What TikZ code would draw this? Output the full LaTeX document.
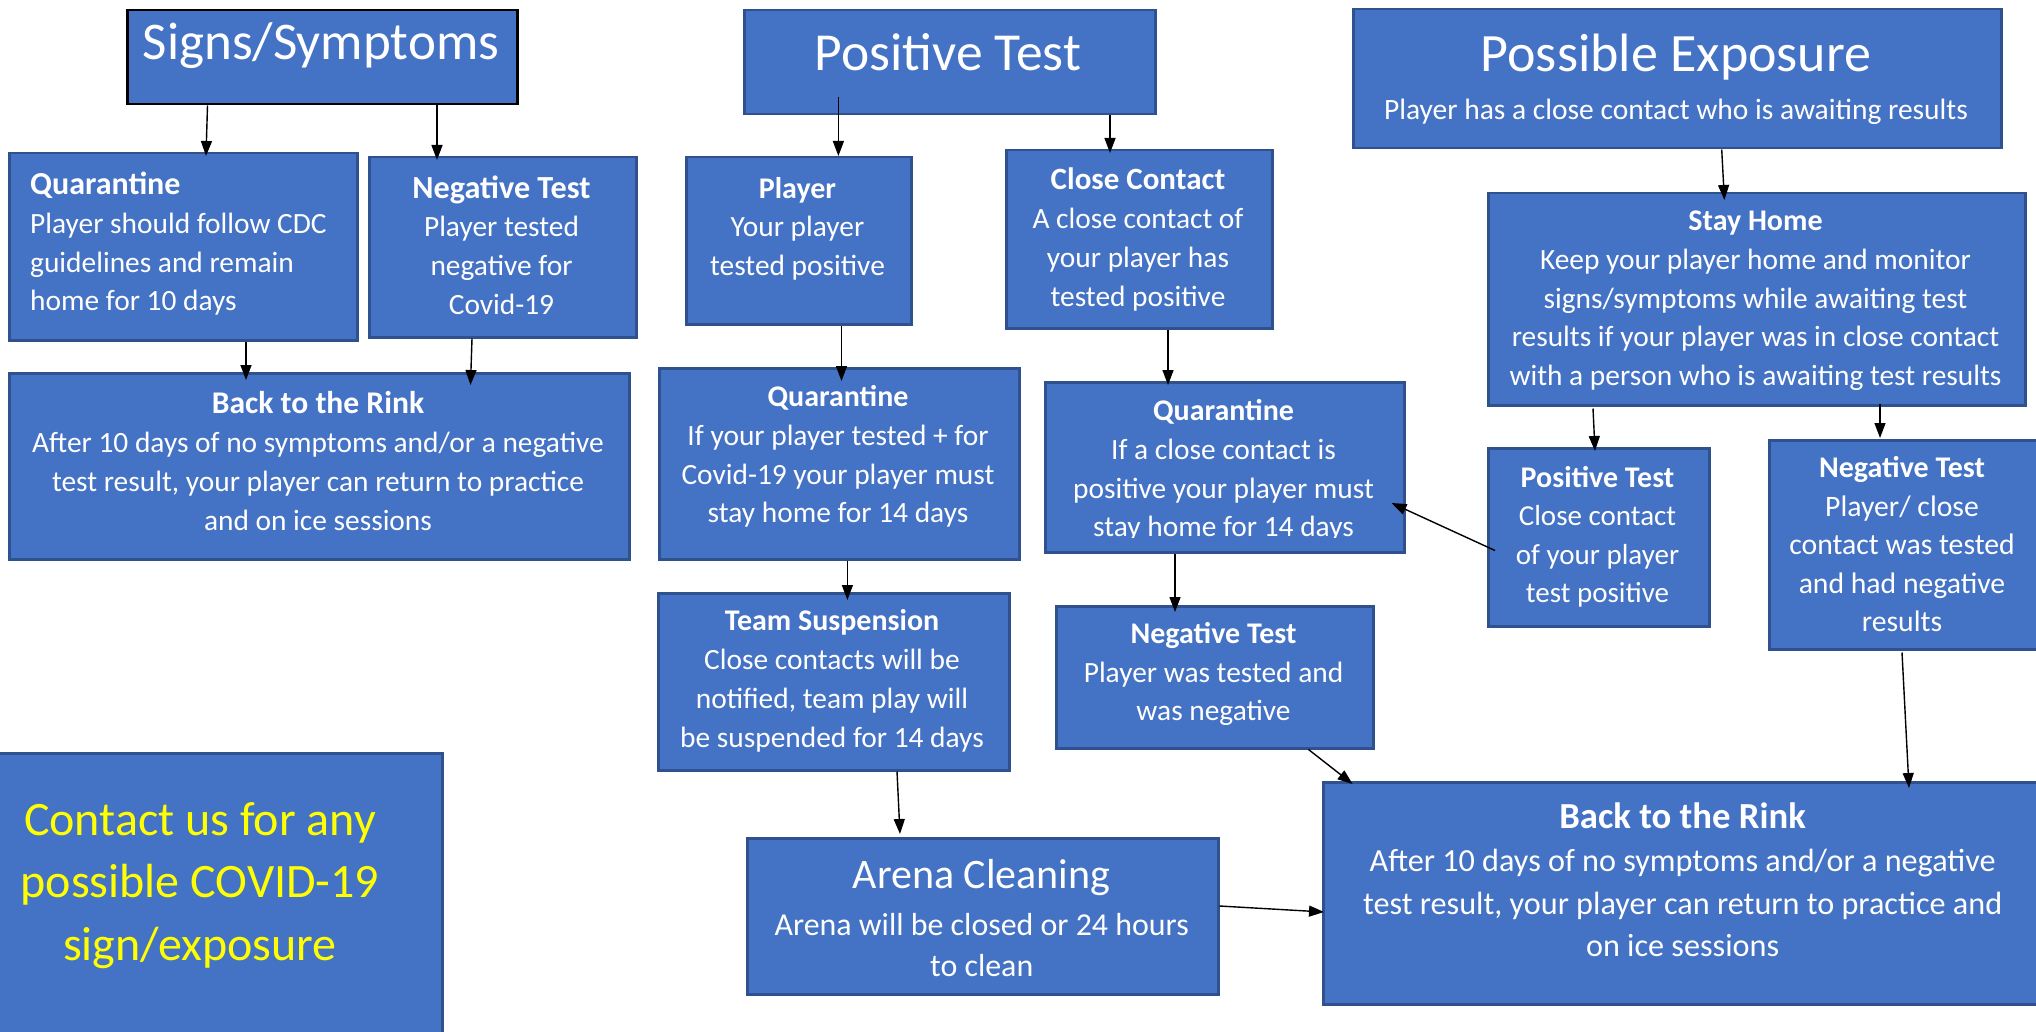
\documentclass[tikz,border=0pt]{standalone}
\usepackage{fontspec}
\setmainfont{Carlito}
\usetikzlibrary{arrows.meta,calc}
\definecolor{boxblue}{HTML}{4472C4}
\definecolor{boxedge}{HTML}{2F528F}
\definecolor{ctyellow}{HTML}{FFFF00}
\newcommand\topstrut{\rule{0pt}{30pt}}
\newcommand\boxtitle[2][30]{{\fontsize{#1}{38}\selectfont\bfseries #2}}
\tikzset{
  box/.style={draw=boxedge, fill=boxblue, line width=2.5pt, inner sep=0pt, anchor=north west},
  txt/.style={text=white, inner sep=0pt, align=center, anchor=base},
  mtxt/.style={text=white, inner sep=0pt, align=center, anchor=north, yshift=30pt},
  body/.style={font=\fontsize{29.4}{38.7}\selectfont},
  arr/.style={-{Triangle[length=15pt,width=11pt]}, line width=1.4pt, draw=black},
}
\begin{document}
\begin{tikzpicture}[x=1pt,y=-1pt]
\useasboundingbox (0,0) rectangle (2036,1032);
\clip (0,0) rectangle (2036,1032);
\fill[white] (0,0) rectangle (2036,1032);

% boxes
\node[box, draw=black, minimum width=390pt, minimum height=94pt] (sig) at (126,9) {};
\node[box, minimum width=348pt, minimum height=187pt] (qL) at (8,152) {};
\node[box, minimum width=267pt, minimum height=180pt] (ntL) at (368,156) {};
\node[box, minimum width=620pt, minimum height=186pt] (bkL) at (8,372) {};
\node[box, minimum width=411pt, minimum height=104pt] (pt) at (743,9) {};
\node[box, minimum width=225pt, minimum height=167pt] (pl) at (685,156) {};
\node[box, minimum width=266pt, minimum height=178pt] (cc) at (1005,149) {};
\node[box, minimum width=360pt, minimum height=191pt] (qM) at (658,367) {};
\node[box, minimum width=359pt, minimum height=170pt] (qR) at (1044,381) {};
\node[box, minimum width=351pt, minimum height=177pt] (ts) at (657,592) {};
\node[box, minimum width=317pt, minimum height=142pt] (ntM) at (1055,605) {};
\node[box, minimum width=471pt, minimum height=156pt] (ac) at (746,837) {};
\node[box, minimum width=451pt, minimum height=300pt] (ct) at (-10,752) {};
\node[box, minimum width=648pt, minimum height=139pt] (pe) at (1352,8) {};
\node[box, minimum width=537pt, minimum height=212pt] (sh) at (1487,192) {};
\node[box, minimum width=221pt, minimum height=178pt] (ptR) at (1487,447) {};
\node[box, minimum width=280pt, minimum height=209pt] (ntR) at (1768,439) {};
\node[box, minimum width=725pt, minimum height=222pt] (bkR) at (1322,781) {};

% texts (mtxt: placed at the first line's baseline)
\node[txt, font=\fontsize{53}{62}\selectfont] (sigt) at (321,60) {Signs/Symptoms};
\node[mtxt, body, anchor=north west, align=left] (qLt) at (30,194.5)
  {\topstrut\boxtitle[32]{Quarantine}\\Player should follow CDC\\guidelines and remain\\home for 10 days};
\node[mtxt, body] (ntLt) at (501.5,198)
  {\topstrut\boxtitle[32.2]{Negative Test}\\Player tested\\negative for\\Covid-19};
\node[mtxt, body] (bkLt) at (318,413.7)
  {\topstrut\boxtitle[31.6]{Back to the Rink}\\After 10 days of no symptoms and/or a negative\\test result, your player can return to practice\\and on ice sessions};
\node[txt, font=\fontsize{53.5}{62}\selectfont] (ptt) at (948,71) {Positive Test};
\node[mtxt, body] (plt) at (797.5,198)
  {\topstrut\boxtitle{Player}\\Your player\\tested positive};
\node[mtxt, body] (cct) at (1138,189.7)
  {\topstrut\boxtitle[31]{Close Contact}\\A close contact of\\your player has\\tested positive};
\node[mtxt, body] (qMt) at (838,406.4)
  {\topstrut\boxtitle{Quarantine}\\If your player tested + for\\Covid-19 your player must\\stay home for 14 days};
\begin{scope}
\clip (1044,381) rectangle (1403,537);
\node[mtxt, body] (qRt) at (1223.5,420.6)
  {\topstrut\boxtitle{Quarantine}\\If a close contact is\\positive your player must\\stay home for 14 days};
\end{scope}
\node[mtxt, body] (tst) at (832,630.7)
  {\topstrut\boxtitle{Team Suspension}\\Close contacts will be\\notified, team play will\\be suspended for 14 days};
\node[mtxt, body] (ntMt) at (1213.5,643.3)
  {\topstrut\boxtitle{Negative Test}\\Player was tested and\\was negative};
\node[txt, font=\fontsize{42}{48}\selectfont] (actt) at (981.7,888) {Arena Cleaning};
\node[mtxt, font=\fontsize{31.9}{41.7}\selectfont] (acbt) at (981.7,935)
  {\topstrut Arena will be closed or 24 hours\\to clean};
\node[mtxt, text=ctyellow, font=\fontsize{48}{62.5}\selectfont, yshift=12pt] (ctt) at (200,835)
  {\rule{0pt}{42pt}Contact us for any\\possible COVID-19\\sign/exposure};
\node[txt, font=\fontsize{54}{64}\selectfont] (pett) at (1676,71.5) {Possible Exposure};
\node[txt, font=\fontsize{29.5}{36}\selectfont] (pebt) at (1676,120)
  {Player has a close contact who is awaiting results};
\node[mtxt, body] (sht) at (1755.5,230.6)
  {\topstrut\boxtitle{Stay Home}\\Keep your player home and monitor\\signs/symptoms while awaiting test\\results if your player was in close contact\\with a person who is awaiting test results};
\node[mtxt, font=\fontsize{29}{38.2}\selectfont] (ptRt) at (1597.5,487.4)
  {\topstrut\boxtitle{Positive Test}\\Close contact\\of your player\\test positive};
\node[mtxt, font=\fontsize{29.7}{38.4}\selectfont] (ntRt) at (1902,477.7)
  {\topstrut\boxtitle{Negative Test}\\Player/ close\\contact was tested\\and had negative\\results};
\node[mtxt, font=\fontsize{32.2}{42.8}\selectfont] (bkRt) at (1682.6,828.3)
  {\topstrut\boxtitle[36.7]{Back to the Rink}\\After 10 days of no symptoms and/or a negative\\test result, your player can return to practice and\\on ice sessions};

% connectors
\draw[arr] ($(sig.south west)+(81.5,0)$) -- ($(qL.north west)+(198,4)$);
\draw[arr] ($(sig.south west)+(311,0)$) -- ($(ntL.north west)+(69,4)$);
\draw[arr] ($(qL.south west)+(238,0)$) -- ($(bkL.north west)+(238,8)$);
\draw[arr] ($(ntL.south west)+(104,0)$) -- ($(bkL.north west)+(462.5,13)$);
\draw[arr] ($(pt.south west)+(95.4,-18)$) -- ($(pl.north west)+(153.4,0)$);
\draw[arr] ($(pt.south west)+(367,0)$) -- ($(cc.north west)+(105,4)$);
\draw[arr] ($(pl.south west)+(156.5,0)$) -- ($(qM.north west)+(183.5,14)$);
\draw[arr] ($(cc.south west)+(163,0)$) -- ($(qR.north west)+(124,4)$);
\draw[arr] ($(qM.south west)+(189.4,0)$) -- ($(ts.north west)+(190.4,8)$);
\draw[arr] ($(qR.south west)+(131,0)$) -- ($(ntM.north west)+(120,7)$);
\draw[arr] ($(ts.south west)+(240,0)$) -- ($(ac.north west)+(154,-3)$);
\draw[arr] ($(ac.north east)+(0,69)$) -- ($(bkR.north west)+(2,131)$);
\draw[arr] ($(ntM.south west)+(253.5,0)$) -- ($(bkR.north west)+(30.6,3)$);
\draw[arr] ($(pe.south west)+(369.7,0)$) -- ($(sh.north west)+(237.4,8)$);
\draw[arr] ($(sh.south west)+(106,2)$) -- ($(ptR.north west)+(108,4)$);
\draw[arr] ($(sh.south west)+(393,-3)$) -- ($(ntR.north west)+(112,-1)$);
\draw[arr] ($(ptR.north west)+(8,103.5)$) -- ($(qR.north east)+(-14,122)$);
\draw[arr] ($(ntR.south west)+(134,2)$) -- ($(bkR.north west)+(587,7)$);
\end{tikzpicture}
\end{document}
